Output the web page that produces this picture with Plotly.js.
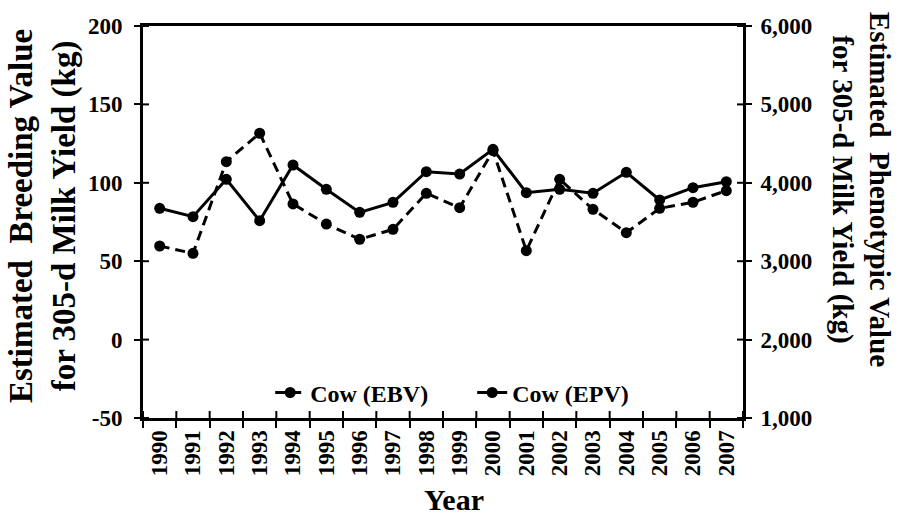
<!DOCTYPE html>
<html>
<head>
<meta charset="utf-8">
<script src="https://cdn.plot.ly/plotly-3.0.1.min.js"></script>
<style>html,body{margin:0;padding:0;background:#fff;}#chart{width:898px;height:522px;}</style>
</head>
<body>
<div id="chart"></div>
<script>
var years = ['1990','1991','1992','1993','1994','1995','1996','1997','1998','1999','2000','2001','2002','2003','2004','2005','2006','2007'];
var ebv = [59.7, 55, 113.5, 131.6, 86.5, 73.7, 64, 70.3, 93.3, 84.1, 120.5, 56.7, 102.2, 83.1, 68.2, 83.7, 87.6, 95];
var epv = [3675, 3568, 4045, 3517, 4227, 3917, 3623, 3751, 4142, 4112, 4427, 3874, 3917, 3866, 4134, 3781, 3938, 4014];
var leftTickVals = [-50, 0, 50, 100, 150, 200];
var leftTickText = ['-50', '0', '50', '100', '150', '200'];
var rightTickVals = [1000, 2000, 3000, 4000, 5000, 6000];
var rightTickText = ['1,000', '2,000', '3,000', '4,000', '5,000', '6,000'];
var ebvName = 'Cow (EBV)';
var epvName = 'Cow (EPV)';
var leftTitle = 'Estimated  Breeding Value<br>for 305-d Milk Yield (kg)';
var rightTitle = 'Estimated  Phenotypic Value<br>for 305-d Milk Yield (kg)';
var xTitle = 'Year';

var FONT = 'Liberation Serif, Times New Roman, serif';
var tickFont = {family: FONT, size: 23, color: '#000', weight: 'bold'};

var traces = [
  {x: years, y: ebv, name: ebvName, type: 'scatter', mode: 'lines+markers', xaxis: 'x', yaxis: 'y',
   line: {color: '#000', width: 3, dash: '10px,6px'}, marker: {color: '#000', size: 11, symbol: 'circle'}},
  {x: years, y: epv, name: epvName, type: 'scatter', mode: 'lines+markers', xaxis: 'x', yaxis: 'y2',
   line: {color: '#000', width: 3}, marker: {color: '#000', size: 11, symbol: 'circle'}}
];

// inner halves of the crossing tick marks (Plotly ticks are one-sided)
var tickStroke = {color: '#000', width: 2};
var shapes = [];
for (var i = 0; i <= years.length; i++) {
  shapes.push({type: 'line', xref: 'x', yref: 'y domain', x0: i - 0.5, x1: i - 0.5, y0: 0, y1: 7 / 392, line: tickStroke, layer: 'above'});
}
leftTickVals.forEach(function (v) {
  shapes.push({type: 'line', xref: 'x domain', yref: 'y', x0: 0, x1: 6 / 600, y0: v, y1: v, line: tickStroke, layer: 'above'});
});
rightTickVals.forEach(function (v) {
  shapes.push({type: 'line', xref: 'x domain', yref: 'y2', x0: 1 - 6 / 600, x1: 1, y0: v, y1: v, line: tickStroke, layer: 'above'});
});

var layout = {
  width: 898, height: 522,
  margin: {l: 143, r: 155, t: 26, b: 104},
  paper_bgcolor: '#fff', plot_bgcolor: '#fff',
  font: {family: FONT, color: '#000'},
  showlegend: true,
  legend: {orientation: 'h', x: 0.212, xanchor: 'left', y: 0.064, yanchor: 'middle', entrywidth: 157, entrywidthmode: 'pixels',
    font: {family: FONT, size: 24, color: '#000', weight: 'bold'}, bgcolor: 'rgba(0,0,0,0)', itemwidth: 30, tracegroupgap: 0},
  xaxis: {type: 'category', range: [-0.5, 17.5], tickson: 'boundaries', ticks: 'outside', ticklen: 7, tickwidth: 2, tickcolor: '#000',
    showline: true, linewidth: 3, linecolor: '#000', mirror: true, showgrid: false, zeroline: false,
    tickangle: -90, tickfont: tickFont, anchor: 'y'},
  yaxis: {range: [-50, 200], tickmode: 'array', tickvals: leftTickVals, ticktext: leftTickText, ticks: 'outside', ticklen: 6, tickwidth: 2, tickcolor: '#000',
    ticklabelstandoff: 7,
    showline: true, linewidth: 3, linecolor: '#000', showgrid: false, zeroline: false, tickfont: tickFont},
  yaxis2: {range: [1000, 6000], tickmode: 'array', tickvals: rightTickVals, ticktext: rightTickText, side: 'right', overlaying: 'y', anchor: 'x',
    ticks: 'outside', ticklen: 6, tickwidth: 2, tickcolor: '#000', ticklabelstandoff: 4,
    showline: true, linewidth: 3, linecolor: '#000', showgrid: false, zeroline: false, tickfont: tickFont},
  shapes: shapes,
  annotations: [
    {text: leftTitle, xref: 'paper', yref: 'paper', x: -0.1667, y: 0.515, xanchor: 'center', yanchor: 'middle',
     textangle: -90, showarrow: false, font: {family: FONT, size: 33, color: '#000', weight: 'bold'}},
    {text: rightTitle, xref: 'paper', yref: 'paper', x: 1.197, y: 0.584, xanchor: 'center', yanchor: 'middle',
     textangle: 90, showarrow: false, font: {family: FONT, size: 29, color: '#000', weight: 'bold'}},
    {text: xTitle, xref: 'paper', yref: 'paper', x: 0.518, y: -0.209, xanchor: 'center', yanchor: 'middle',
     showarrow: false, font: {family: FONT, size: 30, color: '#000', weight: 'bold'}}
  ]
};

Plotly.newPlot('chart', traces, layout, {staticPlot: true});
</script>
</body>
</html>
